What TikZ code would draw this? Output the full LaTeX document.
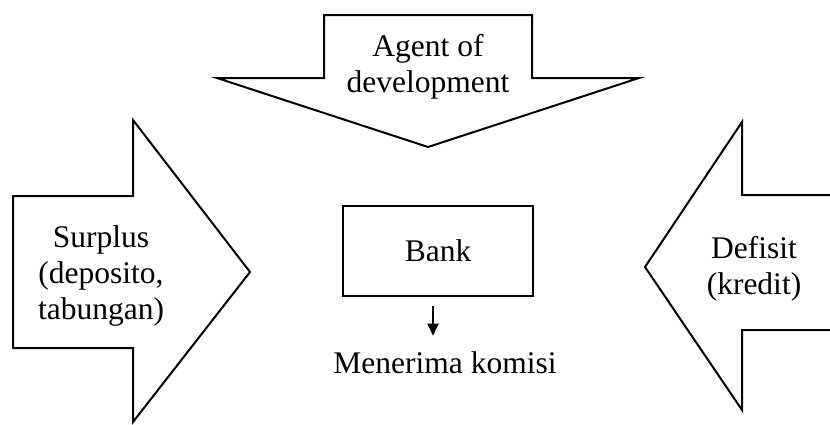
\documentclass[tikz,border=0pt]{standalone}
\usepackage{fontspec}
\setmainfont{Liberation Serif}
\usepackage{tikz}
\usetikzlibrary{arrows.meta, positioning, calc}
\tikzstyle{bigarrow} = [draw=black, line width=2pt, line join=miter, fill=white]
\tikzstyle{label} = [align=center, inner sep=0pt, font=\fontsize{31.5}{36}\selectfont]
\tikzstyle{block} = [rectangle, draw=black, line width=2pt, minimum width=190pt, minimum height=90pt, align=center, font=\fontsize{31.5}{36}\selectfont]
\tikzstyle{arrow} = [line width=2.2pt, -{Triangle[length=12pt, width=11pt]}]

\begin{document}
\begin{tikzpicture}[x=1pt, y=-1pt]
  \useasboundingbox (0,0) rectangle (830,424);
  \clip (0,0) rectangle (830,424);

  % Panah atas
  \draw[bigarrow] (324,15) -- (532,15) -- (532,78) -- (639,78) -- (428,147) -- (217,78) -- (324,78) -- cycle;
  \node[label] (agent) at (428,67) {Agent of\\development};

  % Panah kiri
  \draw[bigarrow] (13,196) -- (133,196) -- (133,120) -- (250,272) -- (133,422) -- (133,348) -- (13,348) -- cycle;
  \node[label] (surplus) at (101,276) {Surplus\\(deposito,\\tabungan)};

  % Panah kanan
  \draw[bigarrow] (850,195) -- (742,195) -- (742,122) -- (645,267) -- (742,410) -- (742,330) -- (850,330);
  \node[label] (defisit) at (754,269) {Defisit\\(kredit)};

  % Bank
  \node[block] (bank) at (438,251) {Bank};
  \node[label] (komisi) at (445,363) {Menerima komisi};

  \draw[arrow] ([xshift=-5pt, yshift=-9pt]bank.south) -- ([xshift=-12pt, yshift=16pt]komisi.north);
\end{tikzpicture}
\end{document}
